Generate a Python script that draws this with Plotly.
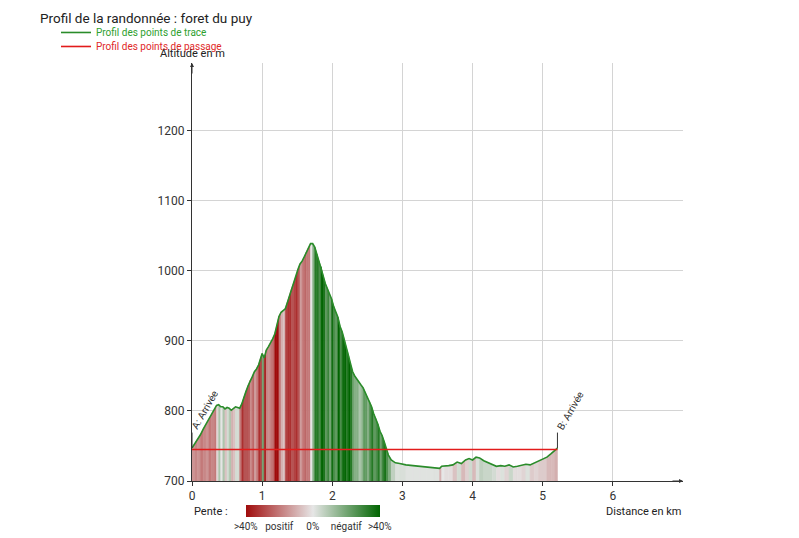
import plotly.graph_objects as go
from plotly.colors import sample_colorscale

# profil : distance (km) / altitude (m)
dist = [0.00, 0.04, 0.08, 0.12, 0.16, 0.20, 0.24, 0.28, 0.32, 0.35,
        0.38, 0.41, 0.44, 0.47, 0.50, 0.53, 0.56, 0.59, 0.62, 0.65,
        0.68, 0.71, 0.74, 0.77, 0.80, 0.83, 0.86, 0.89, 0.92, 0.95,
        0.98, 1.00, 1.03, 1.06, 1.09, 1.12, 1.15, 1.18, 1.21, 1.24,
        1.27, 1.30, 1.33, 1.36, 1.39, 1.42, 1.45, 1.48, 1.51, 1.54,
        1.57, 1.60, 1.63, 1.66, 1.69, 1.72, 1.75, 1.78, 1.81, 1.84,
        1.87, 1.90, 1.93, 1.96, 1.99, 2.02, 2.05, 2.08, 2.11, 2.14,
        2.17, 2.20, 2.23, 2.26, 2.29, 2.32, 2.35, 2.38, 2.41, 2.44,
        2.47, 2.50, 2.53, 2.56, 2.59, 2.62, 2.65, 2.68, 2.71, 2.74,
        2.77, 2.80, 2.84, 2.90, 2.96, 3.05, 3.15, 3.25, 3.35, 3.45,
        3.53, 3.56, 3.60, 3.66, 3.72, 3.78, 3.84, 3.90, 3.95, 4.00,
        4.05, 4.10, 4.16, 4.22, 4.28, 4.34, 4.40, 4.46, 4.52, 4.58,
        4.64, 4.70, 4.76, 4.82, 4.88, 4.94, 5.00, 5.06, 5.12, 5.17,
        5.21]
alt = [747, 753, 760, 766, 774, 781, 787, 795, 802, 808,
       809, 806, 806, 803, 805, 804, 801, 804, 806, 805,
       804, 810, 820, 828, 836, 844, 849, 856, 860, 866,
       876, 882, 876, 887, 892, 897, 903, 910, 922, 935,
       941, 944, 946, 955, 965, 975, 983, 992, 1002, 1010,
       1014, 1020, 1027, 1033, 1039, 1039, 1034, 1024, 1014, 1006,
       993, 982, 975, 966, 960, 949, 941, 934, 921, 913,
       902, 890, 880, 866, 856, 850, 845, 840, 837, 833,
       826, 819, 814, 806, 796, 789, 781, 771, 765, 756,
       745, 737, 730, 726, 725, 723, 722, 721, 720, 719,
       718, 721, 721, 722, 723, 727, 725, 730, 732, 730,
       734, 733, 729, 726, 723, 721, 722, 721, 723, 720,
       721, 722, 724, 723, 726, 728, 731, 734, 739, 743,
       747]

# points de passage
pass_dist = [0.0, 5.21]
pass_alt = [745, 745]
pass_labels = ["A: Arrivée", "B: Arrivée"]

xticks = [0, 1, 2, 3, 4, 5, 6]
yticks = [700, 800, 900, 1000, 1100, 1200]

pente_scale = [[0.0, "#a00c0c"], [0.5, "#e6e6e6"], [1.0, "#006400"]]
pente_vals = [-40, -20, 0, 20, 40]
pente_text = [">40%", "positif", "0%", "négatif", ">40%"]

base = 700
fig = go.Figure()

# bandes colorées selon la pente de chaque segment
for i in range(len(dist) - 1):
    d0, d1 = dist[i], dist[i + 1]
    a0, a1 = alt[i], alt[i + 1]
    pente = (a1 - a0) / ((d1 - d0) * 1000) * 100
    v = max(-40, min(40, -pente))
    col = sample_colorscale(pente_scale, [(v + 40) / 80])[0]
    fig.add_trace(go.Scatter(
        x=[d0, d0, d1, d1, d0], y=[base, a0, a1, base, base],
        fill="toself", fillcolor=col, mode="lines",
        line=dict(color=col, width=0.6),
        hoverinfo="skip", showlegend=False))

fig.add_trace(go.Scatter(
    x=dist, y=alt, mode="lines", legend="legend",
    line=dict(color="#2a8c2a", width=1.6),
    name="<span style='color:#2ea02e'>Profil des points de trace</span>"))
fig.add_trace(go.Scatter(
    x=pass_dist, y=pass_alt, mode="lines", legend="legend2",
    line=dict(color="#e21b1b", width=1.6),
    name="<span style='color:#e02828'>Profil des points de passage</span>"))

# échelle de pente (barre de couleur)
fig.add_trace(go.Scatter(
    x=[0], y=[0], mode="markers", showlegend=False, hoverinfo="skip",
    marker=dict(color=[0], colorscale=pente_scale, cmin=-40, cmax=40,
                showscale=True,
                colorbar=dict(orientation="h", x=0.246, xanchor="center",
                              y=-0.057, yanchor="top", len=0.273,
                              lenmode="fraction", thickness=12,
                              outlinewidth=0, xpad=0, ypad=0, ticks="",
                              tickvals=pente_vals, ticktext=pente_text,
                              tickfont=dict(size=10, color="#333")))))

for d, a, lab in zip(pass_dist, pass_alt, pass_labels):
    # petit trait vertical au-dessus du point
    fig.add_annotation(x=d, y=a + 2, text="", showarrow=True,
                       arrowhead=0, arrowwidth=1, arrowcolor="#333",
                       ax=0, ay=-17)
    fig.add_annotation(x=d, y=a + 2, text=lab, showarrow=False,
                       textangle=-60, xanchor="left", yanchor="bottom",
                       xshift=-5, yshift=14,
                       font=dict(size=10, color="#333"))

# flèches des axes
fig.add_annotation(x=7, y=700, ax=-12, ay=0, text="", showarrow=True,
                   arrowhead=2, arrowsize=0.8, arrowwidth=1, arrowcolor="#333")
fig.add_annotation(x=0, y=1297, ax=0, ay=12, text="", showarrow=True,
                   arrowhead=2, arrowsize=0.8, arrowwidth=1, arrowcolor="#333")

fig.add_annotation(x=0, xref="x", y=-0.072, yref="paper", text="Pente :",
                   showarrow=False, xanchor="left", yanchor="middle",
                   font=dict(size=11, color="#222"))
fig.add_annotation(x=7, xref="x", y=-0.072, yref="paper", text="Distance en km",
                   showarrow=False, xanchor="right", yanchor="middle",
                   font=dict(size=11, color="#222"))
fig.add_annotation(x=0, xref="x", y=1.022, yref="paper", text="Altitude en m",
                   showarrow=False, xanchor="center", yanchor="middle",
                   font=dict(size=11, color="#222"))

# la page ajoute une marge de 8 px autour de la figure
fig.update_layout(
    width=791, height=530,
    margin=dict(l=184, r=116, t=55, b=57, autoexpand=False),
    paper_bgcolor="white", plot_bgcolor="white",
    font=dict(family="Roboto", size=12, color="#333"),
    title=dict(text="Profil de la randonnée : foret du puy", x=32 / 791,
               xanchor="left", y=1 - 10 / 530, yanchor="middle",
               font=dict(size=13.5, color="#222")),
    legend=dict(x=-0.277, xanchor="left", y=1.1077, yanchor="top",
                font=dict(size=10), bgcolor="rgba(0,0,0,0)"),
    legend2=dict(x=-0.277, xanchor="left", y=1.0742, yanchor="top",
                 font=dict(size=10), bgcolor="rgba(0,0,0,0)"),
    xaxis=dict(range=[0, 7], tickvals=xticks, showgrid=True,
               gridcolor="#d4d4d4", showline=True, linecolor="#333",
               ticks="outside", ticklen=4, tickcolor="#333", zeroline=False),
    yaxis=dict(range=[700, 1297], tickvals=yticks, showgrid=True,
               gridcolor="#d4d4d4", showline=True, linecolor="#333",
               ticks="outside", ticklen=4, tickcolor="#333", zeroline=False),
)

fig.write_html("out.html")
